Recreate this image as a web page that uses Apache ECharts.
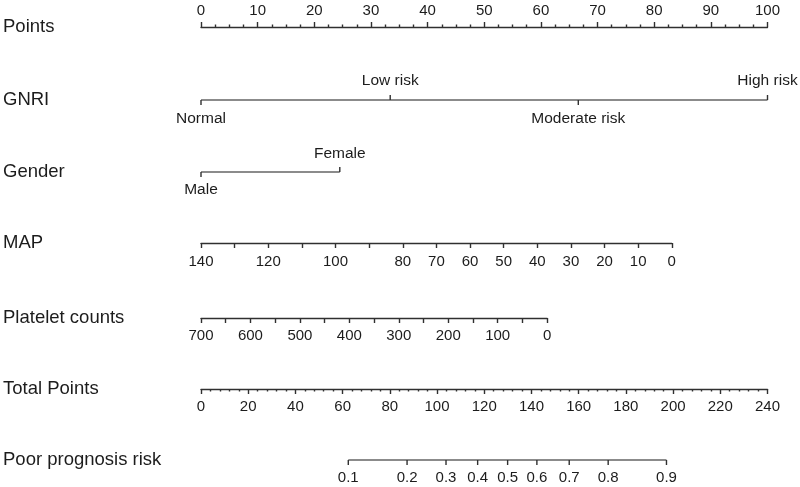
<!DOCTYPE html>
<html><head><meta charset="utf-8">
<script src="https://cdn.jsdelivr.net/npm/echarts@6/dist/echarts.min.js"></script>
<style>html,body{margin:0;padding:0;background:#fff}#c{width:800px;height:487px}</style>
</head><body><div id="c"></div>
<script>
// ---- data ----
const rowNames = ['Points', 'GNRI', 'Gender', 'MAP', 'Platelet counts', 'Total Points', 'Poor prognosis risk'];
const pointsRange = [0, 100];
const gnriLabels = ['Normal', 'Low risk', 'Moderate risk', 'High risk'];
const gnriPoints = [0, 33.4, 66.6, 100];
const gnriSides = [-1, 1, -1, 1];
const genderLabels = ['Male', 'Female'];
const genderPoints = [0, 24.5];
const genderSides = [-1, 1];
const mapRange = [0, 140];
const mapPointsAtZero = 83.1;
const mapUnlabeled = [90, 110, 130];
const plateletRange = [0, 700];
const plateletPointsAtZero = 61.1;
const totalRange = [0, 240];
const riskLabels = ['0.1', '0.2', '0.3', '0.4', '0.5', '0.6', '0.7', '0.8', '0.9'];
const riskTotalPoints = [62.4, 87.3, 103.8, 117.2, 129.9, 142.3, 156.0, 172.5, 197.2];
const riskSides = riskLabels.map(() => -1);

// ---- layout / style ----
const LEFT = 201, PW = 566.5;
const rowY = [27, 100, 172, 243, 318, 389, 460];
const lineColor = '#303030', textColor = '#1c1c1c';
const FONT = '"Liberation Sans", Arial, sans-serif';
const tickFont = 15, catFont = 15.5, nameFont = 18.5;
const LW = 1.4;

const chart = echarts.init(document.getElementById('c'));

const widths = [PW, PW, PW, PW * mapPointsAtZero / 100, PW * plateletPointsAtZero / 100, PW, PW];
const grid = rowY.map((y, i) => ({ left: LEFT, top: y, width: widths[i], height: 0 }));
const yAxis = rowY.map((y, i) => ({ gridIndex: i, type: 'value', min: 0, max: 1, show: false }));

const axisBase = (i, extra) => Object.assign({
  gridIndex: i, type: 'value',
  axisLine: { show: true, lineStyle: { color: lineColor, width: LW } },
  axisTick: { show: true, inside: false, length: 5, lineStyle: { color: lineColor, width: LW } },
  splitLine: { show: false }
}, extra);

const xAxis = [
  axisBase(0, { min: pointsRange[0], max: pointsRange[1], interval: 10, position: 'top',
    minorTick: { show: true, splitNumber: 4, length: 2.5, lineStyle: { color: lineColor, width: LW } },
    axisLabel: { color: textColor, fontSize: tickFont, fontFamily: FONT, margin: 9, showMinLabel: true, showMaxLabel: true } }),
  { gridIndex: 1, type: 'value', min: pointsRange[0], max: pointsRange[1], show: false },
  { gridIndex: 2, type: 'value', min: pointsRange[0], max: pointsRange[1], show: false },
  axisBase(3, { min: mapRange[0], max: mapRange[1], interval: 10, inverse: true, position: 'bottom',
    axisLabel: { color: textColor, fontSize: tickFont, fontFamily: FONT, margin: 11, showMinLabel: true, showMaxLabel: true,
      formatter: v => mapUnlabeled.indexOf(v) >= 0 ? '' : String(v) } }),
  axisBase(4, { min: plateletRange[0], max: plateletRange[1], interval: 50, inverse: true, position: 'bottom',
    axisLabel: { color: textColor, fontSize: tickFont, fontFamily: FONT, margin: 10, showMinLabel: true, showMaxLabel: true,
      formatter: v => v % 100 === 0 ? String(v) : '' } }),
  axisBase(5, { min: totalRange[0], max: totalRange[1], interval: 20, position: 'bottom',
    minorTick: { show: true, splitNumber: 5, length: 2.5, lineStyle: { color: lineColor, width: LW } },
    axisLabel: { color: textColor, fontSize: tickFont, fontFamily: FONT, margin: 10, showMinLabel: true, showMaxLabel: true } }),
  { gridIndex: 6, type: 'value', min: totalRange[0], max: totalRange[1], show: false }
];

function catSeries(i, pts, labels, sides, off) {
  return [
    { type: 'line', xAxisIndex: i, yAxisIndex: i, silent: true, symbol: 'none', animation: false,
      lineStyle: { color: lineColor, width: LW },
      data: [[Math.min.apply(null, pts), 0], [Math.max.apply(null, pts), 0]] },
    { type: 'custom', xAxisIndex: i, yAxisIndex: i, silent: true, animation: false,
      data: pts.map(p => [p, 0]),
      renderItem: (params, api) => {
        const c = api.coord([api.value(0), 0]);
        const s = sides[params.dataIndex];
        return { type: 'group', children: [
          { type: 'line', shape: { x1: c[0], y1: c[1], x2: c[0], y2: c[1] - s * 5 },
            style: { stroke: lineColor, lineWidth: LW } },
          { type: 'text', x: c[0], y: c[1] - s * off,
            style: { text: labels[params.dataIndex], fill: textColor,
              font: (i === 6 ? tickFont : catFont) + 'px ' + FONT, align: 'center', verticalAlign: 'middle' } }
        ] };
      } }
  ];
}

const series = [].concat(
  catSeries(1, gnriPoints, gnriLabels, gnriSides, 19),
  catSeries(2, genderPoints, genderLabels, genderSides, 18),
  catSeries(6, riskTotalPoints, riskLabels, riskSides, 18)
);

const graphic = rowNames.map((n, i) => ({
  type: 'text', x: 3, y: rowY[i],
  style: { text: n, fill: textColor, font: nameFont + 'px ' + FONT, verticalAlign: 'middle', align: 'left' }
}));

chart.setOption({ animation: false, backgroundColor: '#fff', grid, xAxis, yAxis, series, graphic });
</script>
</body></html>
